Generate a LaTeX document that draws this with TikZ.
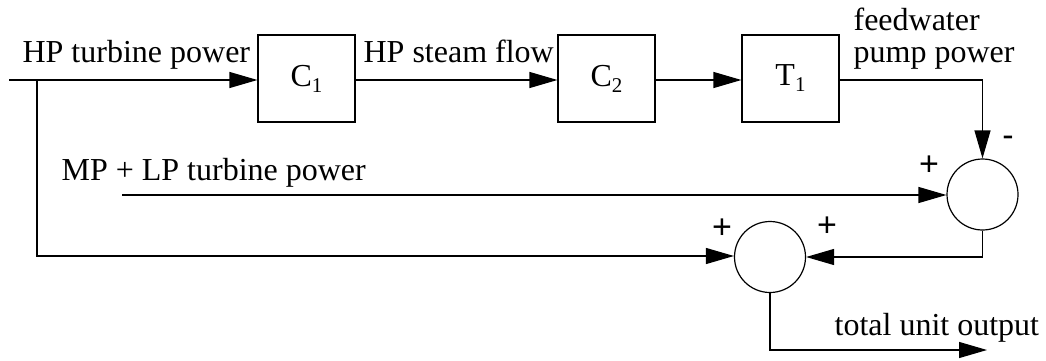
\documentclass[tikz,border=0pt]{standalone}
\usepackage{fontspec}
\setmainfont{Liberation Serif}
\newfontfamily\signfont{Liberation Sans}
\usetikzlibrary{arrows.meta}
\begin{document}
\begin{tikzpicture}[x=1pt,y=-1pt,
  line width=1.2pt,
  blk/.style={draw,minimum width=97pt,minimum height=87pt,inner sep=0pt,font=\fontsize{32}{32}\selectfont},
  sumj/.style={draw,circle,minimum size=71pt,inner sep=0pt},
  lbl/.style={font=\fontsize{32}{34}\selectfont,inner sep=0pt},
  sgn/.style={font=\signfont\fontsize{34}{34}\selectfont,inner sep=0pt},
  arr/.style={-{Triangle[length=28pt,width=16pt]}}]
\useasboundingbox (0,0) rectangle (1046,361);
\newcommand{\sbx}[2]{#1\raisebox{-6pt}{\fontsize{21}{21}\selectfont #2}}
\node[blk] (c1) at (306.5,78.5) {\sbx{C}{1}};
\node[blk] (c2) at (606.5,78.5) {\sbx{C}{2}};
\node[blk] (t1) at (790.5,78.5) {\sbx{T}{1}};
\node[sumj] (s1) at (982.5,194.5) {};
\node[sumj] (s2) at (770,257) {};
\coordinate (in) at (9,80);
\coordinate (br) at (37,80);
\coordinate (brd) at (37,256);
\coordinate (mp) at (122,195);
\coordinate (fw) at (982.5,80);
\coordinate (s1d) at (982.5,257);
\coordinate (s2d) at (770,350);
\coordinate (out) at (987,350);
\draw[arr] (in) -- (c1.west |- in);
\draw[arr] (c1.east |- in) -- (c2.west |- in);
\draw[arr] (c2.east |- in) -- (t1.west |- in);
\draw[arr] (t1.east |- fw) -- (fw) -- (s1.north);
\draw[arr] (mp) -- (s1.west |- mp);
\draw[arr] (br) -- (brd) -- (s2.west |- brd);
\draw[arr] (s1.south) -- (s1d) -- (s2.east |- s1d);
\draw[arr] (s2.south) -- (s2d) -- (out);
\node[lbl,anchor=base west] (l1) at (22,63) {HP turbine power};
\node[lbl,anchor=base west] (l2) at (363,63) {HP steam flow};
\node[lbl,anchor=base west] (l3) at (853,31) {feedwater};
\node[lbl,anchor=base west] (l4) at (853,63) {pump power};
\node[lbl,anchor=base west] (l5) at (61,180) {MP + LP turbine power};
\node[lbl,anchor=base west] (l6) at (834,335) {total unit output};
\node[sgn] (p1) at (929,166) {+};
\node[sgn] (m1) at (1008,141) {-};
\node[sgn] (p2) at (722,229) {+};
\node[sgn] (p3) at (827,227) {+};
\end{tikzpicture}
\end{document}
